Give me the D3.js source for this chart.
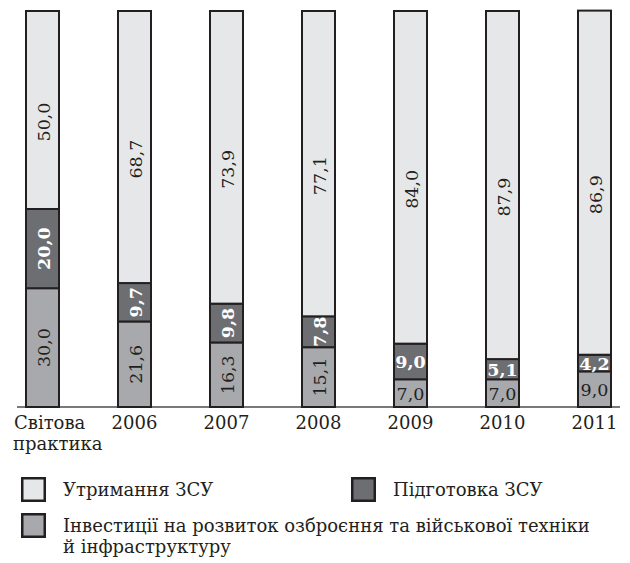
<!DOCTYPE html>
<html>
<head>
<meta charset="utf-8">
<script src="https://cdn.jsdelivr.net/npm/d3@7"></script>
<style>
  body { margin: 0; background: #fff; }
  text { font-family: "DejaVu Serif", "Liberation Serif", serif; }
</style>
</head>
<body>
<div id="chart"></div>
<script>
// categories and series (percent)
const categories = ["Світова практика", "2006", "2007", "2008", "2009", "2010", "2011"];
const invest = [30.0, 21.6, 16.3, 15.1, 7.0, 7.0, 9.0];
const training = [20.0, 9.7, 9.8, 7.8, 9.0, 5.1, 4.2];
const upkeep = [50.0, 68.7, 73.9, 77.1, 84.0, 87.9, 86.9];
// which bars get horizontal labels for the small segments
const horizontalSmall = ["2009", "2010", "2011"];

const seriesNames = ["Утримання ЗСУ", "Підготовка ЗСУ", "Інвестиції на розвиток озброєння та військової техніки й інфраструктуру"];

const colors = {invest: "#a7a9ac", training: "#6d6e71", upkeep: "#e6e7e8"};
const stroke = "#231f20";

const width = 630, height = 563;

const svg = d3.select("#chart")
    .append("svg")
    .attr("width", width)
    .attr("height", height);

// scales
const x = d3.scalePoint()
    .domain(categories)
    .range([42.5, 594.5]);
const barW = 33;

const y = d3.scaleLinear()
    .domain([0, 100])
    .range([407, 11]);

// build stacked data
const data = categories.map((c, i) => ({cat: c, invest: invest[i], training: training[i], upkeep: upkeep[i]}));
const stack = d3.stack().keys(["invest", "training", "upkeep"]);
const layers = stack(data);

// baseline
svg.append("line")
    .attr("x1", 17).attr("x2", 620)
    .attr("y1", y(0)).attr("y2", y(0))
    .attr("stroke", "#4d4d4f")
    .attr("stroke-width", 1.6);

// bars
layers.forEach(function(layer) {
    svg.append("g")
        .selectAll("rect")
        .data(layer)
        .enter()
        .append("rect")
        .attr("x", d => x(d.data.cat) - barW / 2)
        .attr("y", d => y(d[1]))
        .attr("width", barW)
        .attr("height", d => y(d[0]) - y(d[1]))
        .attr("fill", colors[layer.key])
        .attr("stroke", stroke)
        .attr("stroke-width", 2);
});

// value labels
const fmt = v => v.toFixed(1).replace(".", ",");
layers.forEach(function(layer) {
    const key = layer.key;
    const g = svg.append("g");
    layer.forEach(function(d) {
        const cx = x(d.data.cat);
        let cy = (y(d[0]) + y(d[1])) / 2;
        if (key == "upkeep") cy += 12;
        const horiz = key != "upkeep" && horizontalSmall.includes(d.data.cat);
        const t = g.append("text")
            .text(fmt(d.data[key]))
            .attr("font-size", 17.5)
            .attr("text-anchor", "middle")
            .attr("dominant-baseline", "central")
            .attr("fill", key == "training" ? "#fff" : stroke)
            .attr("font-weight", key == "training" ? "bold" : "normal");
        if (horiz) {
            t.attr("x", cx).attr("y", cy + 1);
        } else {
            t.attr("transform", `translate(${cx + 1},${cy}) rotate(-90)`);
        }
    });
});

// category labels
categories.forEach(function(c, i) {
    if (i == 0) {
        const t = svg.append("text")
            .attr("x", 14).attr("y", 429)
            .attr("font-size", 18)
            .attr("fill", stroke);
        t.append("tspan").attr("x", 14).text("Світова");
        t.append("tspan").attr("x", 13).attr("dy", 21).text("практика");
    } else {
        svg.append("text")
            .attr("x", x(c)).attr("y", 429)
            .attr("text-anchor", "middle")
            .attr("font-size", 18)
            .attr("fill", stroke)
            .text(c);
    }
});

// legend
const legendItems = [
    {name: [seriesNames[0]], color: colors.upkeep, x: 21, y: 477},
    {name: [seriesNames[1]], color: colors.training, x: 351, y: 477},
    {name: ["Інвестиції на розвиток озброєння та військової техніки", "й інфраструктуру"], color: colors.invest, x: 21, y: 513}
];
const legend = svg.append("g").selectAll(".legendItem").data(legendItems).enter().append("g");
legend.append("rect")
    .attr("x", d => d.x + 1.25).attr("y", d => d.y + 1.25)
    .attr("width", 22.5).attr("height", 22.5)
    .attr("fill", d => d.color)
    .attr("stroke", stroke)
    .attr("stroke-width", 2.5);
legend.append("text")
    .attr("x", d => d.x + 42)
    .attr("y", d => d.y + 19)
    .attr("font-size", 18)
    .attr("fill", stroke)
    .each(function(d) {
        const el = d3.select(this);
        d.name.forEach((line, j) => {
            el.append("tspan").attr("x", d.x + 42).attr("dy", j == 0 ? 0 : 21).text(line);
        });
    });
</script>
</body>
</html>
